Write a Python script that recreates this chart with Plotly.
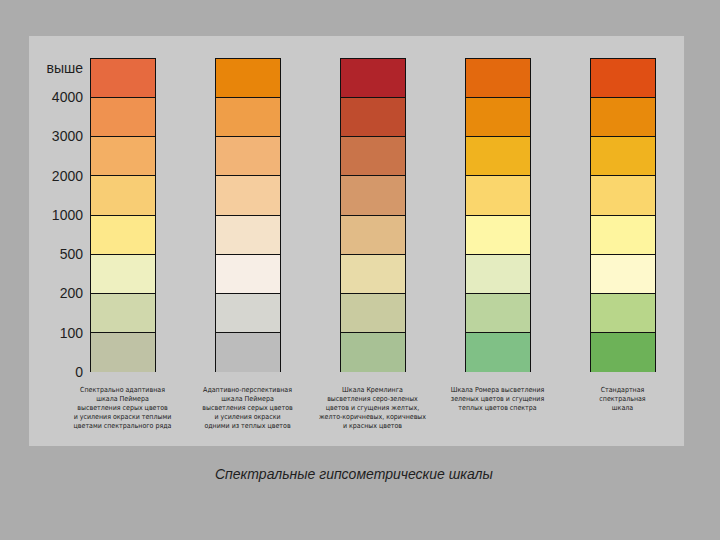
import plotly.graph_objects as go

# heights of the scale steps (bottom to top) and their labels
levels = ["0", "100", "200", "500", "1000", "2000", "3000", "4000"]
top_label = "выше"

scales = [
    "Спектрально адаптивная<br>шкала Пеймера<br>высветления серых цветов<br>и усиления окраски теплыми<br>цветами спектрального ряда",
    "Адаптивно-перспективная<br>шкала Пеймера<br>высветления серых цветов<br>и усиления окраски<br>одними из теплых цветов",
    "Шкала Кремлинга<br>высветления серо-зеленых<br>цветов и сгущения желтых,<br>желто-коричневых, коричневых<br>и красных цветов",
    "Шкала Ромера высветления<br>зеленых цветов и сгущения<br>теплых цветов спектра",
    "Стандартная<br>спектральная<br>шкала",
]

# colours of each scale, from the lowest band (0-100) to the top band (выше 4000)
colors_peimer_spectral = ["#bfc2a5", "#d0d8ac", "#eef0c0", "#fde88a", "#f8cd74", "#f3af64", "#ef9250", "#e66a3f"]
colors_peimer_adaptive = ["#bcbcbc", "#d6d6d0", "#f7eee6", "#f4e2c9", "#f5cd9e", "#f2b477", "#ef9e48", "#e8850a"]
colors_kremling = ["#a8c195", "#c9cba0", "#e8dba8", "#e1bb87", "#d4986a", "#c9744a", "#bf4c2e", "#b0242a"]
colors_romer = ["#80c086", "#bbd49e", "#e4ecc0", "#fef7a6", "#fad66c", "#f0b31f", "#e88a0c", "#e3690e"]
colors_standard = ["#6db258", "#b8d68a", "#fef9cc", "#fef59e", "#fad66c", "#f0b31f", "#e88a0c", "#e04f14"]

all_colors = [colors_peimer_spectral, colors_peimer_adaptive, colors_kremling,
              colors_romer, colors_standard]

xs = list(range(len(scales)))
fig = go.Figure()

# one stacked bar segment per band
for i in range(len(levels)):
    fig.add_trace(go.Bar(
        x=xs,
        y=[1] * len(scales),
        marker=dict(color=[c[i] for c in all_colors],
                    line=dict(color="#111111", width=1)),
        width=0.52,
        hoverinfo="skip",
        showlegend=False,
    ))

tickvals = list(range(len(levels))) + [len(levels) - 0.25]
ticktext = levels + [top_label]

fig.update_layout(
    barmode="stack",
    width=720, height=540,
    margin=dict(l=88, r=35, t=58, b=168),
    paper_bgcolor="#acacac",
    plot_bgcolor="rgba(0,0,0,0)",
    font=dict(family="Liberation Sans, Arial, sans-serif", color="#1e1e1e"),
    xaxis=dict(
        range=[-0.276, 4.5],
        tickvals=xs, ticktext=scales,
        tickfont=dict(size=7, color="#1a1a1a",
                      family="Liberation Sans Narrow, DejaVu Sans Condensed, Arial Narrow, sans-serif"),
        showgrid=False, zeroline=False, showline=False, ticks="",
        ticklabelstandoff=12,
    ),
    yaxis=dict(
        range=[0, len(levels)],
        tickvals=tickvals, ticktext=ticktext,
        tickfont=dict(size=14),
        showgrid=False, zeroline=False, showline=False, ticks="",
        ticklabelstandoff=4,
    ),
    shapes=[dict(
        type="rect", xref="paper", yref="paper",
        x0=-0.0988, x1=0.9984, y0=-0.2357, y1=1.07,
        fillcolor="#c9c9c9", line=dict(width=0), layer="below",
    )],
    annotations=[dict(
        text="<i>Спектральные гипсометрические шкалы</i>",
        xref="paper", yref="paper", x=0.446, y=-0.325,
        xanchor="center", yanchor="middle",
        showarrow=False, font=dict(size=14, color="#1e1e1e"),
    )],
)

fig.write_html("out.html",
               config={"displayModeBar": False},
               post_script="document.body.style.margin='0';"
                           "document.body.style.background='#acacac';")
